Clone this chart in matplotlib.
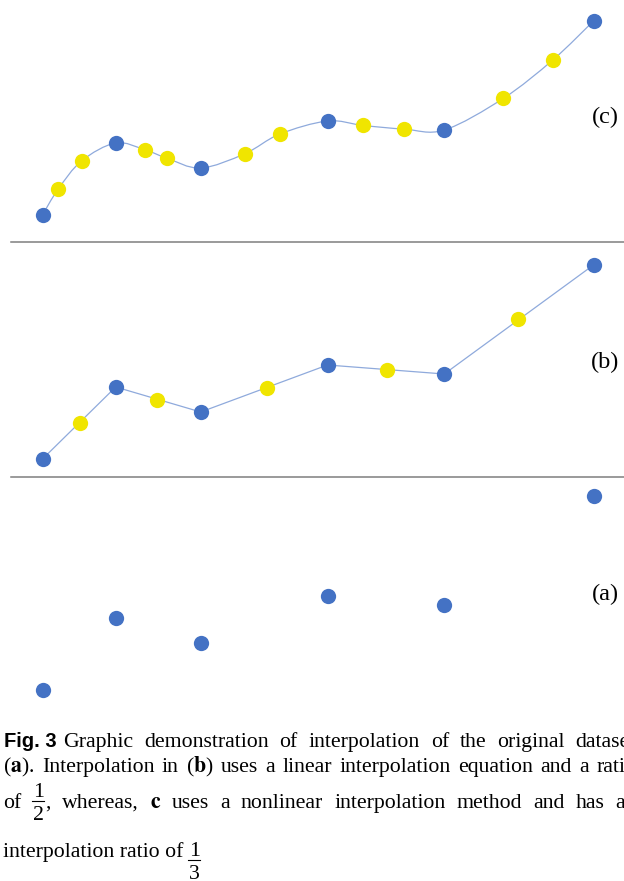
import numpy as np
import matplotlib
matplotlib.use("Agg")
import matplotlib.pyplot as plt
from matplotlib.path import Path
from matplotlib.patches import PathPatch
from matplotlib.lines import Line2D

plt.rcParams["font.family"] = ["Liberation Serif", "DejaVu Serif"]
plt.rcParams["mathtext.fontset"] = "stix"

# original dataset (same in all three panels)
orig_x = [4.25, 11.57, 20.07, 32.75, 44.43, 59.35]
orig_y = [1.0, 8.2, 5.7, 10.4, 9.5, 20.4]

# (b) linear interpolation, ratio 1/2
lin_x = [8.0, 15.7, 26.7, 38.7, 51.8]
lin_y = [4.6, 6.9, 8.1, 9.9, 15.0]

# (c) nonlinear interpolation, ratio 1/3
nl_x = [5.8, 8.17, 14.5, 16.67, 24.47, 27.97, 36.27, 40.43, 50.33, 55.3]
nl_y = [3.56, 6.42, 7.52, 6.69, 7.12, 9.09, 9.96, 9.59, 12.66, 16.52]

panel_labels = ["(a)", "(b)", "(c)"]

caption_1 = ["Graphic", "demonstration", "of", "interpolation", "of", "the",
             "original", "dataset"]
caption_2 = [r"($\mathbf{a}$).", "Interpolation", "in", r"($\mathbf{b}$)", "uses",
             "a", "linear", "interpolation", "equation", "and", "a", "ratio"]
caption_3 = ["of", ("1", "2", ","), "whereas,", r"$\mathbf{c}$", "uses", "a",
             "nonlinear", "interpolation", "method", "and", "has", "an"]
caption_4 = "interpolation ratio of"

BLUE = "#4472C4"
YELLOW = "#F0E500"
LINE = "#8FAADC"

W, H = 624, 881
fig = plt.figure(figsize=(W / 100, H / 100), dpi=100)
renderer = fig.canvas.get_renderer()


def px(x, y):
    return x / W, 1 - y / H


def panel(top, bottom, ylim):
    ax = fig.add_axes([0, 1 - bottom / H, 1, (bottom - top) / H])
    ax.set_xlim(0, 62.4)
    ax.set_ylim(*ylim)
    ax.axis("off")
    return ax


def smooth_path(xs, ys):
    # Excel-style smoothed line: cubic Bezier through every point
    p = np.column_stack([xs, ys])
    n = len(p)
    verts = [p[0]]
    codes = [Path.MOVETO]
    for i in range(n - 1):
        p_prev = p[i - 1] if i > 0 else p[i]
        p_next2 = p[i + 2] if i + 2 < n else p[i + 1]
        c1 = p[i] + (p[i + 1] - p_prev) / 6
        c2 = p[i + 1] - (p_next2 - p[i]) / 6
        verts += [c1, c2, p[i + 1]]
        codes += [Path.CURVE4] * 3
    return Path(verts, codes)


ms = 11

# (c) top panel
ax_c = panel(0, 241, (-1.6, 22.5))
pts = sorted(zip(orig_x + nl_x, orig_y + nl_y))
ax_c.add_patch(PathPatch(smooth_path([a for a, _ in pts], [b for _, b in pts]),
                         facecolor="none", edgecolor=LINE, lw=0.9, zorder=1))
ax_c.plot(nl_x, nl_y, "o", color=YELLOW, ms=ms, mec="none", zorder=3)
ax_c.plot(orig_x, orig_y, "o", color=BLUE, ms=ms, mec="none", zorder=3)

# (b) middle panel
ax_b = panel(241, 476, (-0.7, 22.8))
ax_b.plot(orig_x, orig_y, "-", color=LINE, lw=0.9, zorder=1)
ax_b.plot(lin_x, lin_y, "o", color=YELLOW, ms=ms, mec="none", zorder=3)
ax_b.plot(orig_x, orig_y, "o", color=BLUE, ms=ms, mec="none", zorder=3)

# (a) bottom panel
ax_a = panel(476, 720, (-2.0, 22.4))
ax_a.plot(orig_x, orig_y, "o", color=BLUE, ms=ms, mec="none", zorder=3)

# separators
for y in (241.5, 476.5):
    fig.add_artist(Line2D([11 / W, 1], [1 - y / H] * 2, color="#7F7F7F", lw=1.1))

# panel labels
for lab, y in zip(panel_labels, (594, 362, 117)):
    fig.text(*px(605, y), lab, fontsize=17.5, ha="center", va="center")

# caption
fs = 15.7


def put(x, y, s, **kw):
    t = fig.text(*px(x, y), s, fontsize=fs, va="baseline", **kw)
    return t.get_window_extent(renderer).width


def fraction(x, y, num, den, tail="", bar_y=None):
    # stacked fraction: numerator / bar / denominator
    bar_w = 12
    if bar_y is None:
        bar_y = y - 7
    fig.text(*px(x + bar_w / 2, bar_y - 4), num, fontsize=fs, ha="center", va="baseline")
    fig.text(*px(x + bar_w / 2, bar_y + 5), den, fontsize=fs, ha="center", va="top")
    fig.add_artist(Line2D([x / W, (x + bar_w) / W], [1 - bar_y / H] * 2,
                          color="black", lw=0.8))
    w = bar_w + 1
    if tail:
        w += put(x + w, y, tail)
    return w


def width_of(tok):
    s = tok[2] if isinstance(tok, tuple) else tok
    t = fig.text(0, 0, s, fontsize=fs)
    w = t.get_window_extent(renderer).width
    t.remove()
    return w + (13 if isinstance(tok, tuple) else 0)


def justify(tokens, y, left, right):
    widths = [width_of(t) for t in tokens]
    gap = (right - left - sum(widths)) / (len(tokens) - 1)
    x = left
    for tok, w in zip(tokens, widths):
        if isinstance(tok, tuple):
            fraction(x, y, *tok)
        else:
            put(x, y, tok)
        x += w + gap


fig.text(*px(4, 747), "Fig. 3", fontsize=14.5, fontweight="bold",
         family=["Liberation Sans Narrow", "Liberation Sans"], va="baseline")
justify(caption_1, 747, 63, 636)
justify(caption_2, 772, 3, 636)
justify(caption_3, 808, 3, 636)

w4 = put(3, 857, caption_4)
fraction(3 + w4 + 5, 857, "1", "3", bar_y=860)

fig.savefig("out.png", dpi=100)
